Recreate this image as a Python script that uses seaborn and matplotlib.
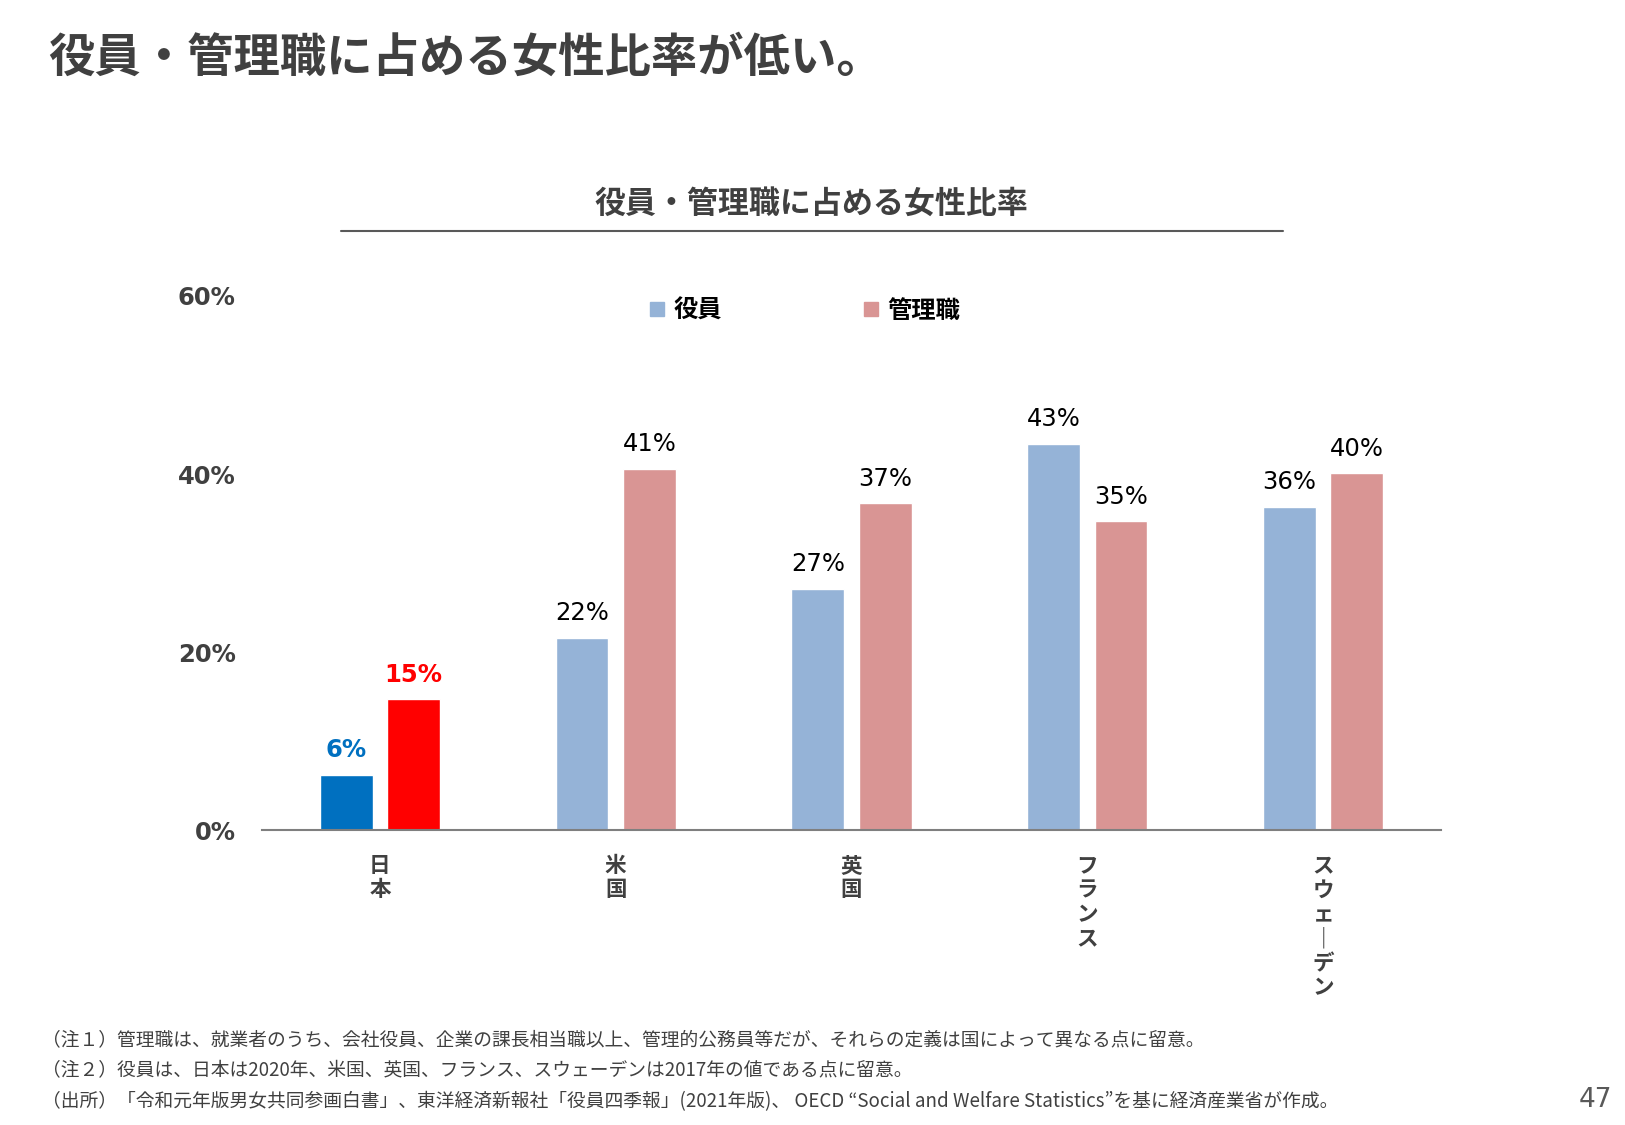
import pandas as pd
import matplotlib.pyplot as plt
import seaborn as sns
from matplotlib.lines import Line2D

# データ
countries = ['日本', '米国', '英国', 'フランス', 'スウェーデン']
series = ['役員', '管理職']
yakuin = [6.2, 21.6, 27.1, 43.4, 36.3]
kanrishoku = [14.7, 40.6, 36.7, 34.7, 40.1]
yticks = [0, 20, 40, 60]

colors = {'役員': '#95B3D7', '管理職': '#D99594'}
japan_colors = ['#0070C0', '#FF0000']
gray = '#404040'

df = pd.DataFrame({
    '国': countries * 2,
    '区分': ['役員'] * len(countries) + ['管理職'] * len(countries),
    '比率': yakuin + kanrishoku,
})

sns.set_theme(style='white')
plt.rcParams['font.family'] = ['Noto Sans CJK JP', 'DejaVu Sans']

fig = plt.figure(figsize=(16.25, 11.25), dpi=100)
ax = fig.add_axes([0.1612, 0.2622, 0.7256, 0.4747])

sns.barplot(data=df, x='国', y='比率', hue='区分', palette=colors,
            width=0.572, gap=0.217, saturation=1, legend=False, ax=ax)

# 日本だけ色を変える
for i, cont in enumerate(ax.containers):
    cont[0].set_facecolor(japan_colors[i])

# 値ラベル
for i, cont in enumerate(ax.containers):
    labels = [f'{v:.0f}%' for v in cont.datavalues]
    texts = ax.bar_label(cont, labels=labels, padding=9, fontsize=17.5,
                         family='DejaVu Sans', color='black')
    texts[0].set_color(japan_colors[i])
    texts[0].set_fontweight('bold')

ax.set_xlim(-0.5, len(countries) - 0.5)
ax.set_ylim(0, 60)
ax.set_yticks(yticks)
ax.set_yticklabels([f'{t}%' for t in yticks], fontsize=17.5, fontweight='bold',
                   color=gray, family='DejaVu Sans')
ax.set_xticks(range(len(countries)))
ax.set_xticklabels(['\n'.join(c.replace('ー', '｜')) for c in countries],
                   fontsize=15.5, fontweight='bold', color=gray, linespacing=1.2)
ax.tick_params(axis='y', length=0, pad=19)
ax.tick_params(axis='x', length=0, pad=18)
ax.set_xlabel('')
ax.set_ylabel('')
for s in ['top', 'right', 'left']:
    ax.spines[s].set_visible(False)
ax.spines['bottom'].set_color('#7F7F7F')
ax.spines['bottom'].set_linewidth(1.5)

# 凡例
handles = [Line2D([], [], marker='s', linestyle='none', markersize=10,
                  markerfacecolor=colors[s], markeredgecolor=colors[s]) for s in series]
leg = fig.legend(handles, series, loc='center', bbox_to_anchor=(0.495, 0.7236),
                 ncol=2, frameon=False, prop={'size': 17.5, 'weight': 'bold'},
                 handlelength=0.7, handletextpad=0.3, columnspacing=5.8)
for t in leg.get_texts():
    t.set_color('black')

# タイトル
fig.text(0.0295, 0.949, '役員・管理職に占める女性比率が低い。', fontsize=33.4,
         fontweight='bold', color=gray, va='center', ha='left')
fig.text(0.4995, 0.8187, '役員・管理職に占める女性比率', fontsize=22.3,
         fontweight='bold', color=gray, va='center', ha='center')
fig.add_artist(Line2D([0.2098, 0.7895], [0.7947, 0.7947], color='#595959',
                      linewidth=1.5, transform=fig.transFigure))

# 注記
notes = [
    '（注１）管理職は、就業者のうち、会社役員、企業の課長相当職以上、管理的公務員等だが、それらの定義は国によって異なる点に留意。',
    '（注２）役員は、日本は2020年、米国、英国、フランス、スウェーデンは2017年の値である点に留意。',
    '（出所）「令和元年版男女共同参画白書」、東洋経済新報社「役員四季報」(2021年版)、 OECD “Social and Welfare Statistics”を基に経済産業省が作成。',
]
for i, n in enumerate(notes):
    fig.text(0.026, 1 - (1040 + 31 * i) / 1125, n, fontsize=13.5, color=gray,
             va='center', ha='left')
fig.text(0.992, 1 - 1100 / 1125, '47', fontsize=19, color='#595959',
         va='center', ha='right', family='DejaVu Sans')

fig.savefig('out.png', dpi=100)
